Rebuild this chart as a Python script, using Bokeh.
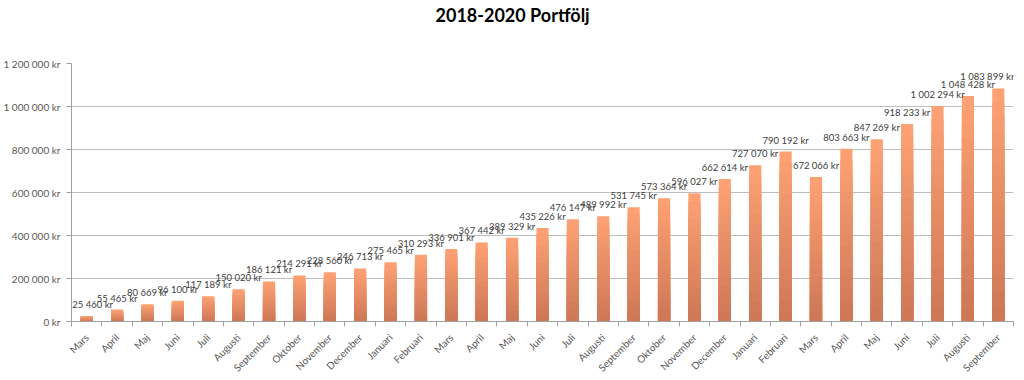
from math import pi
from bokeh.plotting import figure
from bokeh.models import FixedTicker, ColumnDataSource, Range1d, LabelSet
from bokeh.core.properties import value
from bokeh.embed import file_html
from bokeh.resources import INLINE

months = ["Mars", "April", "Maj", "Juni", "Juli", "Augusti", "September", "Oktober",
          "November", "December", "Januari", "Februari", "Mars", "April", "Maj", "Juni",
          "Juli", "Augusti", "September", "Oktober", "November", "December", "Januari",
          "Februari", "Mars", "April", "Maj", "Juni", "Juli", "Augusti", "September"]
values = [25460, 55465, 80669, 96100, 117189, 150020, 186121, 214291,
          228560, 246713, 275465, 310293, 336901, 367442, 389329, 435226,
          476147, 489992, 531745, 573364, 596027, 662614, 727070,
          790192, 672066, 803663, 847269, 918233, 1002294, 1048428, 1083899]
y_ticks = [0, 200000, 400000, 600000, 800000, 1000000, 1200000]
y_tick_labels = ["0 kr", "200 000 kr", "400 000 kr", "600 000 kr", "800 000 kr",
                 "1 000 000 kr", "1 200 000 kr"]
title_text = "2018-2020 Portfölj"

FONT = "Lato"
n = len(values)
xs = list(range(n))
labels = [f"{v:,}".replace(",", " ") + " kr" for v in values]

p = figure(width=1024, height=380, x_range=Range1d(-0.5, n - 0.5),
           y_range=Range1d(0, 1200000), output_backend="svg", toolbar_location=None,
           min_border_left=70, min_border_right=11, min_border_top=60, min_border_bottom=59)

# blank trailing lines lift the title towards the top edge, as in the original
p.title.text = title_text + "\n\u00a0\n\u00a0"
p.title.text_line_height = 0.75
p.title.align = "left"
p.title.offset = 364
p.title.vertical_align = "top"
p.title.text_font = FONT
p.title.text_font_size = "18px"
p.title.text_font_style = "bold"
p.title.text_color = "#000000"
p.title.standoff = 6

p.outline_line_color = None
p.background_fill_color = "white"
p.border_fill_color = "white"

# gradient bars (lighter at top, darker at bottom)
top_c = (253, 161, 116)
bot_c = (203, 117, 85)
N = 16
for k in range(N, 0, -1):
    f = k / N
    c = tuple(int(round(bot_c[i] + (top_c[i] - bot_c[i]) * f)) for i in range(3))
    src = ColumnDataSource(dict(x=xs, top=[v * k / N for v in values]))
    p.vbar(x="x", top="top", bottom=0, width=0.40, source=src,
           fill_color="#%02x%02x%02x" % c, line_color=None)

# data labels; the end ones are nudged inwards to stay inside the plot area
offs = [0] * n
offs[0] = 6
offs[-1] = -11
lab_src = ColumnDataSource(dict(x=xs, y=values, text=labels, xo=offs))
p.add_layout(LabelSet(x="x", y="y", text="text", source=lab_src, text_align="center",
                      x_offset="xo", text_baseline="alphabetic", y_offset=8,
                      text_font=value(FONT), text_font_size="9.5px", text_color="#404040"))

# x axis
xa = p.xaxis[0]
xa.ticker = FixedTicker(ticks=xs, minor_ticks=[i - 0.5 for i in range(n + 1)])
xa.major_label_overrides = {i: months[i] for i in xs}
xa.major_label_orientation = pi / 4
xa.major_tick_in = 0
xa.major_tick_out = 0
xa.minor_tick_in = 0
xa.minor_tick_out = 5
xa.minor_tick_line_color = "#A0A0A0"
xa.axis_line_color = "#A0A0A0"
xa.major_label_text_font = FONT
xa.major_label_text_font_size = "10px"
xa.major_label_text_color = "#595959"
xa.major_label_standoff = 9

# y axis
ya = p.yaxis[0]
ya.ticker = FixedTicker(ticks=y_ticks)
ya.major_label_overrides = {t: l for t, l in zip(y_ticks, y_tick_labels)}
ya.major_tick_in = 0
ya.major_tick_out = 5
ya.minor_tick_line_color = None
ya.major_tick_line_color = "#A0A0A0"
ya.axis_line_color = "#A0A0A0"
ya.major_label_text_font = FONT
ya.major_label_text_font_size = "10px"
ya.major_label_text_color = "#595959"
ya.major_label_standoff = 6

p.xgrid.grid_line_color = None
p.ygrid.grid_line_color = "#BEBEBE"

open("out.html", "w").write(file_html(p, INLINE))
